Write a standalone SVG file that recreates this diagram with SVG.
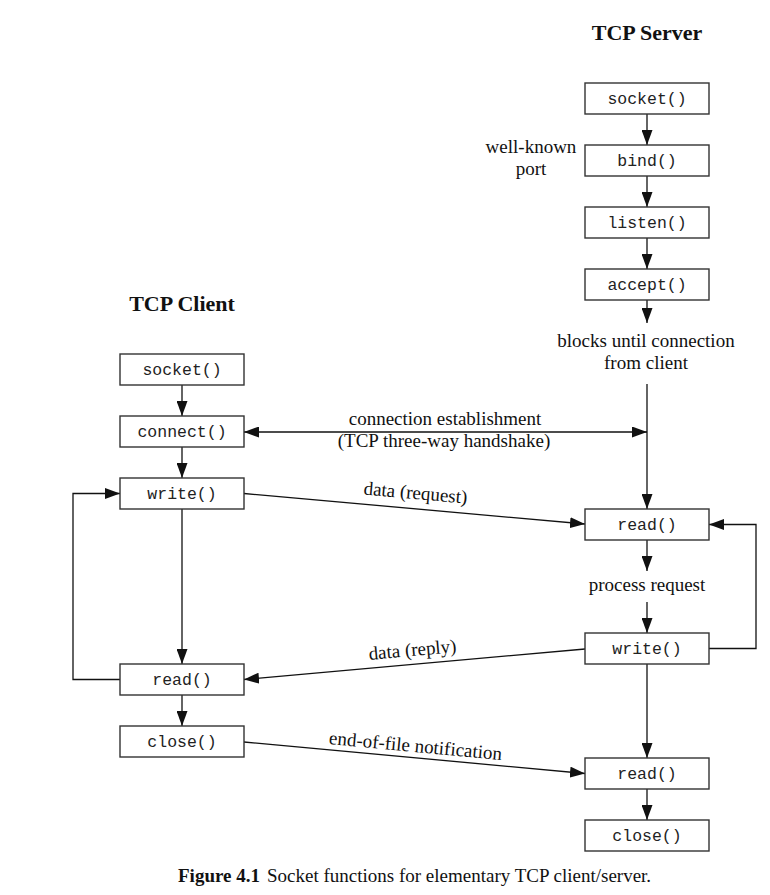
<svg xmlns="http://www.w3.org/2000/svg" width="770" height="895" viewBox="0 0 770 895">
<defs>
<marker id="ah" markerUnits="userSpaceOnUse" markerWidth="15" markerHeight="11" refX="15" refY="5.5" orient="auto-start-reverse">
<path d="M0,0 L15,5.5 L0,11 z" fill="#111"/>
</marker>
<style>
.box{fill:#fff;stroke:#333;stroke-width:1.4}
.fn{font-family:"Liberation Mono","Courier New",monospace;font-size:16.5px;fill:#222;text-anchor:middle}
.lbl{font-family:"Liberation Serif","Times New Roman",serif;font-size:19px;fill:#111;text-anchor:middle}
.title{font-family:"Liberation Serif","Times New Roman",serif;font-size:22px;font-weight:bold;fill:#111;text-anchor:middle}
.cap{font-family:"Liberation Serif","Times New Roman",serif;font-size:19px;fill:#111}
.ln{fill:none;stroke:#111;stroke-width:1.3}
.arr{fill:none;stroke:#111;stroke-width:1.3;marker-end:url(#ah)}
</style>
</defs>
<rect width="770" height="895" fill="#fff"/>

<text class="title" x="647" y="40">TCP Server</text>
<text class="title" x="182" y="311">TCP Client</text>

<g id="connectors">
<!-- server chain -->
<line class="arr" x1="647" y1="114" x2="647" y2="145"/>
<line class="arr" x1="647" y1="176" x2="647" y2="207"/>
<line class="arr" x1="647" y1="238" x2="647" y2="269"/>
<line class="arr" x1="647" y1="300" x2="647" y2="323"/>
<line class="arr" x1="647" y1="384" x2="647" y2="509"/>
<line class="arr" x1="647" y1="540" x2="647" y2="571"/>
<line class="arr" x1="647" y1="602" x2="647" y2="633"/>
<line class="arr" x1="647" y1="664" x2="647" y2="758"/>
<line class="arr" x1="647" y1="789" x2="647" y2="820"/>
<polyline class="arr" points="709,648.5 756,648.5 756,524.5 709,524.5"/>
<!-- client chain -->
<line class="arr" x1="182" y1="385" x2="182" y2="416"/>
<line class="arr" x1="182" y1="447" x2="182" y2="478"/>
<line class="arr" x1="182" y1="509" x2="182" y2="664"/>
<line class="arr" x1="182" y1="695" x2="182" y2="726"/>
<polyline class="arr" points="120,679.5 73,679.5 73,493.5 120,493.5"/>
<!-- cross -->
<line class="arr" x1="244" y1="432" x2="647" y2="432" marker-start="url(#ah)"/>
<line class="arr" x1="244" y1="493.5" x2="585" y2="524"/>
<line class="arr" x1="585" y1="649" x2="244" y2="679.5"/>
<line class="arr" x1="244" y1="742" x2="585" y2="773.5"/>
</g>

<g id="labels">
<text class="lbl" x="531" y="153">well-known</text>
<text class="lbl" x="531" y="175">port</text>
<text class="lbl" x="646" y="347">blocks until connection</text>
<text class="lbl" x="646" y="369">from client</text>
<text class="lbl" x="445" y="425">connection establishment</text>
<text class="lbl" x="444" y="447">(TCP three-way handshake)</text>
<text class="lbl" x="415" y="499" transform="rotate(5.1 415 499)">data (request)</text>
<text class="lbl" x="413" y="656" transform="rotate(-5.1 413 656)">data (reply)</text>
<text class="lbl" x="415" y="752" transform="rotate(5.3 415 752)">end-of-file notification</text>
<text class="lbl" x="647" y="591">process request</text>
</g>

<g id="srv-socket"><rect class="box" x="585" y="83" width="124" height="31"/><text class="fn" x="647" y="104">socket()</text></g>
<g id="srv-bind"><rect class="box" x="585" y="145" width="124" height="31"/><text class="fn" x="647" y="166">bind()</text></g>
<g id="srv-listen"><rect class="box" x="585" y="207" width="124" height="31"/><text class="fn" x="647" y="228">listen()</text></g>
<g id="srv-accept"><rect class="box" x="585" y="269" width="124" height="31"/><text class="fn" x="647" y="290">accept()</text></g>
<g id="srv-read"><rect class="box" x="585" y="509" width="124" height="31"/><text class="fn" x="647" y="530">read()</text></g>
<g id="srv-write"><rect class="box" x="585" y="633" width="124" height="31"/><text class="fn" x="647" y="654">write()</text></g>
<g id="srv-read2"><rect class="box" x="585" y="758" width="124" height="31"/><text class="fn" x="647" y="779">read()</text></g>
<g id="srv-close"><rect class="box" x="585" y="820" width="124" height="31"/><text class="fn" x="647" y="841">close()</text></g>

<g id="cli-socket"><rect class="box" x="120" y="354" width="124" height="31"/><text class="fn" x="182" y="375">socket()</text></g>
<g id="cli-connect"><rect class="box" x="120" y="416" width="124" height="31"/><text class="fn" x="182" y="437">connect()</text></g>
<g id="cli-write"><rect class="box" x="120" y="478" width="124" height="31"/><text class="fn" x="182" y="499">write()</text></g>
<g id="cli-read"><rect class="box" x="120" y="664" width="124" height="31"/><text class="fn" x="182" y="685">read()</text></g>
<g id="cli-close"><rect class="box" x="120" y="726" width="124" height="31"/><text class="fn" x="182" y="747">close()</text></g>

<g id="caption">
<text class="cap" x="178" y="882"><tspan font-weight="bold">Figure 4.1</tspan><tspan x="267">Socket functions for elementary TCP client/server.</tspan></text>
</g>
</svg>
